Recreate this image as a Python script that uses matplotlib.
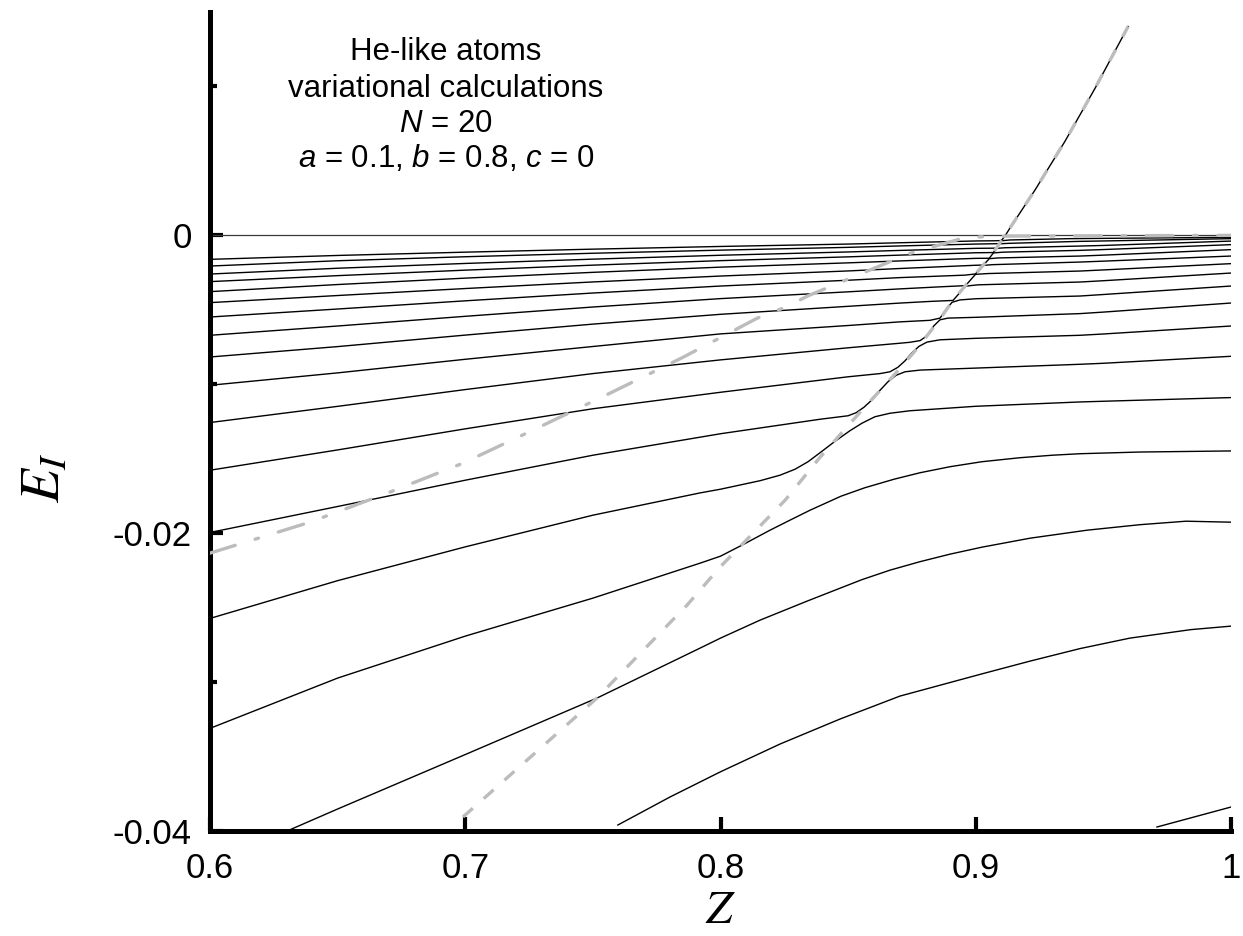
import matplotlib
matplotlib.use("Agg")
import matplotlib.pyplot as plt
from matplotlib.ticker import FixedLocator, FixedFormatter

plt.rcParams['font.family'] = ['Liberation Sans', 'DejaVu Sans']
plt.rcParams['lines.scale_dashes'] = False
plt.rcParams['mathtext.fontset'] = 'custom'
plt.rcParams['mathtext.rm'] = 'Liberation Sans'
plt.rcParams['mathtext.it'] = 'Liberation Sans:italic'

# ---------------- data (Z, E_I) ----------------
C1_Z = [0.600, 0.650, 0.700, 0.750, 0.800, 0.850, 0.870, 0.900, 0.9079, 0.9100, 0.9109, 0.9116, 0.9134, 0.9232, 0.9350, 0.9467, 0.9597]
C1_E = [-0.001611, -0.001349, -0.001128, -0.000926, -0.000745, -0.000584, -0.000497, -0.000376, -0.000362, -0.000349, -0.000168, 0.0, 0.000489, 0.003040, 0.006329, 0.009866, 0.014027]

C2_Z = [0.600, 0.650, 0.700, 0.750, 0.800, 0.850, 0.870, 0.900, 0.9092, 0.9105, 0.9134, 0.9369, 0.9499, 1.000]
C2_E = [-0.002060, -0.001705, -0.001436, -0.001201, -0.000993, -0.000805, -0.000711, -0.000584, -0.000557, -0.000356, -0.000309, -0.000221, -0.000201, -0.000134]

C3_Z = [0.600, 0.650, 0.700, 0.750, 0.800, 0.850, 0.870, 0.900, 0.9081, 0.9092, 0.9126, 0.9408, 0.9499, 1.000]
C3_E = [-0.002597, -0.002208, -0.001886, -0.001597, -0.001336, -0.001114, -0.001013, -0.000872, -0.000859, -0.000570, -0.000537, -0.000403, -0.000376, -0.000221]

C4_Z = [0.600, 0.650, 0.700, 0.750, 0.800, 0.850, 0.870, 0.900, 0.9069, 0.9081, 0.9115, 0.9408, 0.9499, 1.000]
C4_E = [-0.003107, -0.002705, -0.002336, -0.002000, -0.001698, -0.001443, -0.001329, -0.001168, -0.001154, -0.000872, -0.000832, -0.000718, -0.000678, -0.000383]

C5_Z = [0.600, 0.650, 0.700, 0.750, 0.800, 0.850, 0.870, 0.900, 0.9053, 0.9069, 0.9107, 0.9408, 0.9499, 1.000]
C5_E = [-0.003779, -0.003302, -0.002872, -0.002483, -0.002134, -0.001846, -0.001718, -0.001544, -0.001537, -0.001181, -0.001128, -0.001007, -0.000953, -0.000624]

C6_Z = [0.600, 0.650, 0.700, 0.750, 0.800, 0.850, 0.870, 0.900, 0.9030, 0.9053, 0.9087, 0.9408, 0.9499, 1.000]
C6_E = [-0.004517, -0.004040, -0.003570, -0.003128, -0.002732, -0.002389, -0.002228, -0.002007, -0.001993, -0.001564, -0.001517, -0.001389, -0.001329, -0.000960]

C7_Z = [0.600, 0.650, 0.700, 0.750, 0.800, 0.850, 0.870, 0.8958, 0.8999, 0.9030, 0.9068, 0.9408, 0.9499, 1.000]
C7_E = [-0.005483, -0.004946, -0.004396, -0.003872, -0.003403, -0.003013, -0.002839, -0.002671, -0.002591, -0.002013, -0.001966, -0.001792, -0.001732, -0.001389]

C8_Z = [0.600, 0.650, 0.700, 0.750, 0.800, 0.850, 0.870, 0.8860, 0.8960, 0.8999, 0.9048, 0.9408, 0.9499, 1.000]
C8_E = [-0.006711, -0.006087, -0.005436, -0.004812, -0.004248, -0.003792, -0.003597, -0.003456, -0.003376, -0.002617, -0.002564, -0.002396, -0.002322, -0.001899]

C9_Z = [0.600, 0.650, 0.700, 0.750, 0.800, 0.850, 0.870, 0.8821, 0.8911, 0.8960, 0.9009, 0.9408, 0.9499, 1.000]
C9_E = [-0.008168, -0.007470, -0.006698, -0.005960, -0.005302, -0.004765, -0.004550, -0.004436, -0.004369, -0.003409, -0.003322, -0.003134, -0.003047, -0.002530]

C10_Z = [0.600, 0.650, 0.700, 0.750, 0.800, 0.850, 0.870, 0.8821, 0.8860, 0.8883, 0.8907, 0.8938, 0.9001, 0.9408, 0.9499, 1.000]
C10_E = [-0.010067, -0.009235, -0.008322, -0.007463, -0.006617, -0.006054, -0.005812, -0.005705, -0.005557, -0.004999, -0.004497, -0.004336, -0.004255, -0.004074, -0.003973, -0.003403]

C11_Z = [0.600, 0.650, 0.700, 0.750, 0.800, 0.850, 0.870, 0.8742, 0.8782, 0.8809, 0.8836, 0.8860, 0.8891, 0.9001, 0.9408, 0.9499, 1.000]
C11_E = [-0.012570, -0.011483, -0.010356, -0.009282, -0.008362, -0.007550, -0.007248, -0.007181, -0.007067, -0.006745, -0.006074, -0.005671, -0.005557, -0.005503, -0.005255, -0.005154, -0.004544]

C12_Z = [0.600, 0.650, 0.700, 0.750, 0.800, 0.850, 0.8625, 0.8664, 0.8695, 0.8723, 0.8750, 0.8778, 0.8809, 0.8860, 0.9001, 0.9408, 0.9499, 1.000]
C12_E = [-0.015772, -0.014409, -0.012993, -0.011644, -0.010537, -0.009497, -0.009282, -0.009161, -0.008859, -0.008423, -0.007886, -0.007450, -0.007168, -0.007013, -0.006913, -0.006711, -0.006624, -0.006087]

C13_Z = [0.600, 0.650, 0.700, 0.750, 0.800, 0.8390, 0.8500, 0.8531, 0.8562, 0.8594, 0.8625, 0.8656, 0.8688, 0.8723, 0.8782, 0.9001, 0.9408, 0.9499, 1.000]
C13_E = [-0.019953, -0.018208, -0.016443, -0.014765, -0.013322, -0.012349, -0.012114, -0.011913, -0.011544, -0.011040, -0.010403, -0.009832, -0.009396, -0.009161, -0.009047, -0.008913, -0.008658, -0.008591, -0.008121]

C14_Z = [0.600, 0.650, 0.700, 0.750, 0.7920, 0.800, 0.8155, 0.8233, 0.8292, 0.8343, 0.8390, 0.8449, 0.8507, 0.8554, 0.8605, 0.8664, 0.8742, 0.9001, 0.9408, 0.9499, 1.000]
C14_E = [-0.025725, -0.023188, -0.020919, -0.018792, -0.017295, -0.017047, -0.016476, -0.016107, -0.015705, -0.015201, -0.014597, -0.013825, -0.013121, -0.012617, -0.012181, -0.011946, -0.011779, -0.011477, -0.011188, -0.011141, -0.010893]

C15_Z = [0.600, 0.650, 0.700, 0.750, 0.7920, 0.800, 0.8084, 0.8194, 0.8264, 0.8351, 0.8472, 0.8566, 0.8680, 0.8782, 0.8899, 0.9024, 0.9173, 0.9299, 0.9408, 0.9643, 1.000]
C15_E = [-0.033107, -0.029731, -0.026913, -0.024362, -0.022013, -0.021544, -0.020805, -0.019799, -0.019195, -0.018456, -0.017517, -0.016946, -0.016376, -0.015940, -0.015537, -0.015201, -0.014933, -0.014765, -0.014664, -0.014550, -0.014477]

C16_Z = [0.6302, 0.650, 0.700, 0.7516, 0.7920, 0.800, 0.8155, 0.8339, 0.8449, 0.8554, 0.8664, 0.8782, 0.8899, 0.9024, 0.9213, 0.9436, 0.9643, 0.9824, 1.000]
C16_E = [-0.040000, -0.038523, -0.034866, -0.031074, -0.027718, -0.027047, -0.025839, -0.024564, -0.023825, -0.023121, -0.022483, -0.021912, -0.021409, -0.020940, -0.020336, -0.019799, -0.019430, -0.019195, -0.019262]

C17_Z = [0.7598, 0.7802, 0.7998, 0.8233, 0.8468, 0.8703, 0.9021, 0.9213, 0.9408, 0.9604, 0.9843, 1.000]
C17_E = [-0.039597, -0.037718, -0.036040, -0.034161, -0.032483, -0.030940, -0.029463, -0.028590, -0.027752, -0.027047, -0.026476, -0.026242]

C18_Z = [0.9710, 1.000]
C18_E = [-0.039732, -0.038390]

THRESH_Z = [0.6, 1.0]
THRESH_E = [0.0, 0.0]

# diabatic (dashed grey) curve
DIAB_Z = [0.6991, 0.7516, 0.7869, 0.7998, 0.8253, 0.8390, 0.8554, 0.8637, 0.8707, 0.8774,
          0.8856, 0.8911, 0.8977, 0.9056, 0.9115, 0.9232, 0.9350, 0.9467, 0.9597]
DIAB_E = [-0.03906, -0.03107, -0.02483, -0.02228, -0.01779, -0.01490, -0.01174, -0.01020, -0.00886, -0.00752,
          -0.00570, -0.00436, -0.00302, -0.00148, 0.00000, 0.00304, 0.00633, 0.00987, 0.01403]

# dash-dot grey curve
DD_Z = [0.6000, 0.6392, 0.6693, 0.6991, 0.7281, 0.7567, 0.7853, 0.8143, 0.8253, 0.8347, 0.8441,
        0.8742, 0.8852, 0.8962, 0.9119, 1.0000]
DD_E = [-0.02134, -0.01926, -0.01732, -0.01530, -0.01295, -0.01060, -0.00819, -0.00557, -0.00483, -0.00403, -0.00336,
        -0.00121, -0.00067, -0.00013, -0.00005, 0.0]

X_TICKS = [0.6, 0.7, 0.8, 0.9, 1.0]
X_LABELS = ["0.6", "0.7", "0.8", "0.9", "1"]
Y_TICKS = [0.0, -0.02, -0.04]
Y_LABELS = ["0", "-0.02", "-0.04"]
Y_MINOR = [0.01, -0.01, -0.03]

CURVES = [(C1_Z, C1_E), (C2_Z, C2_E), (C3_Z, C3_E), (C4_Z, C4_E), (C5_Z, C5_E), (C6_Z, C6_E),
          (C7_Z, C7_E), (C8_Z, C8_E), (C9_Z, C9_E), (C10_Z, C10_E), (C11_Z, C11_E), (C12_Z, C12_E),
          (C13_Z, C13_E), (C14_Z, C14_E), (C15_Z, C15_E), (C16_Z, C16_E), (C17_Z, C17_E), (C18_Z, C18_E)]

# ---------------- figure ----------------
W, H = 1243, 936
fig = plt.figure(figsize=(W / 100, H / 100), dpi=100)
ax = fig.add_axes([210 / W, (H - 831) / H, 1021 / W, 819 / H])
ax.set_xlim(0.6, 1.0)
ax.set_ylim(-0.04, 0.015)

GREY = '#bcbcbc'

ax.plot(THRESH_Z, THRESH_E, color='#3a3a3a', lw=0.9, zorder=2)
for zz, ee in CURVES:
    ax.plot(zz, ee, color='black', lw=1.0, zorder=2, solid_joinstyle='round')

ax.plot(DIAB_Z, DIAB_E, color=GREY, lw=2.4, dashes=(9.5, 10.5), zorder=3, dash_capstyle='butt')
ax.plot(DD_Z, DD_E, color=GREY, lw=2.4, dashes=(19, 15, 2.5, 15), zorder=3, dash_capstyle='round')

for s in ['top', 'right']:
    ax.spines[s].set_visible(False)
for s in ['left', 'bottom']:
    ax.spines[s].set_linewidth(3.6)
    ax.spines[s].set_capstyle('projecting')

ax.xaxis.set_major_locator(FixedLocator(X_TICKS))
ax.xaxis.set_major_formatter(FixedFormatter(X_LABELS))
ax.yaxis.set_major_locator(FixedLocator(Y_TICKS))
ax.yaxis.set_major_formatter(FixedFormatter(Y_LABELS))
ax.yaxis.set_minor_locator(FixedLocator(Y_MINOR))

ax.tick_params(axis='x', which='major', direction='in', length=10, width=3, labelsize=25, pad=15)
ax.tick_params(axis='y', which='major', direction='in', length=9, width=3, labelsize=25, pad=13)
ax.tick_params(axis='y', which='minor', direction='in', length=5, width=3)

ax.set_xlabel('$Z$', fontsize=34, math_fontfamily='stix')
ax.xaxis.set_label_coords(0.4995, -0.0977)
ax.xaxis.label.set_verticalalignment('center')

ax.set_ylabel('$E_I$', fontsize=40, math_fontfamily='stix')
ax.yaxis.set_label_coords(-0.1616, 0.431)
ax.yaxis.label.set_verticalalignment('center')

TXT_Z = 0.6925
lines = ["He-like atoms", "variational calculations", "$N$ = 20",
         "$a$ = 0.1, $b$ = 0.8, $c$ = 0"]
baselines = [0.011745, 0.009282, 0.006913, 0.004564]
for t, yb in zip(lines, baselines):
    ax.text(TXT_Z, yb, t, ha='center', va='baseline', fontsize=22.5,
            math_fontfamily='custom')

fig.savefig('out.png', dpi=100)
